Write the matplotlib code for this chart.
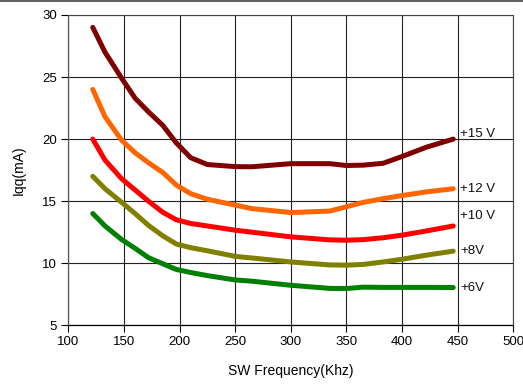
import matplotlib
matplotlib.use("Agg")
import matplotlib.pyplot as plt
from matplotlib.lines import Line2D

plt.rcParams['font.family'] = ['Liberation Sans', 'DejaVu Sans']

freq = [122, 133, 148, 160, 172, 185, 197, 210, 225, 250, 265, 300, 335, 350, 365, 383, 400, 422, 446]
iqq_15v = [29.0, 27.0, 24.9, 23.3, 22.2, 21.1, 19.7, 18.5, 17.95, 17.78, 17.77, 18.02, 18.02, 17.87, 17.9, 18.05, 18.6, 19.35, 20.0]
iqq_12v = [24.0, 21.8, 19.9, 18.9, 18.1, 17.3, 16.3, 15.6, 15.15, 14.68, 14.4, 14.08, 14.2, 14.55, 14.9, 15.2, 15.45, 15.75, 16.0]
iqq_10v = [20.0, 18.3, 16.8, 15.9, 15.0, 14.1, 13.5, 13.2, 13.0, 12.66, 12.5, 12.12, 11.88, 11.85, 11.9, 12.05, 12.26, 12.6, 13.0]
iqq_8v = [17.0, 16.0, 14.9, 14.0, 13.05, 12.2, 11.55, 11.25, 11.0, 10.55, 10.42, 10.1, 9.86, 9.84, 9.9, 10.1, 10.32, 10.65, 10.97]
iqq_6v = [14.0, 13.0, 11.9, 11.2, 10.45, 9.95, 9.5, 9.25, 9.0, 8.65, 8.55, 8.22, 7.97, 7.96, 8.07, 8.05, 8.05, 8.05, 8.04]

series = [
    ("+15 V", iqq_15v, "#800000"),
    ("+12 V", iqq_12v, "#FF6600"),
    ("+10 V", iqq_10v, "#FF0000"),
    ("+8V", iqq_8v, "#808000"),
    ("+6V", iqq_6v, "#008000"),
]
label_y = [20.4, 16.0, 13.8, 11.0, 8.0]

xticks = [100, 150, 200, 250, 300, 350, 400, 450, 500]
yticks = [5, 10, 15, 20, 25, 30]

fs = 9.5

fig = plt.figure(figsize=(5.23, 3.84), dpi=100)
ax = fig.add_axes([0.1306, 0.153, 0.8509, 0.808])

for (name, vals, col), ly in zip(series, label_y):
    ax.plot(freq, vals, color=col, lw=3.6, solid_capstyle='round', solid_joinstyle='round', zorder=3)
    ax.text(freq[-1] + 6, ly, name, fontsize=fs, va='center', ha='left', color='#111111')

ax.set_xlim(100, 500)
ax.set_ylim(5, 30)
ax.set_xticks(xticks)
ax.set_yticks(yticks)
ax.tick_params(axis='both', labelsize=fs, length=5, width=0.8, direction='out', color='black', pad=3)
ax.grid(True, color='#222222', lw=0.8)
ax.set_axisbelow(True)
for s in ['top', 'right']:
    ax.spines[s].set_color('#444444')
    ax.spines[s].set_linewidth(0.8)
ax.spines['left'].set_color('#555555')
ax.spines['left'].set_linewidth(0.9)
ax.spines['bottom'].set_color('black')
ax.spines['bottom'].set_linewidth(0.9)

ax.set_xlabel("SW Frequency(Khz)", fontsize=10, labelpad=11)
ax.set_ylabel("Iqq(mA)", fontsize=10, labelpad=12)

fig.add_artist(Line2D([0, 1], [0.998, 0.998], transform=fig.transFigure, color='#444444', lw=1.2))

fig.savefig("out.png", dpi=100)
